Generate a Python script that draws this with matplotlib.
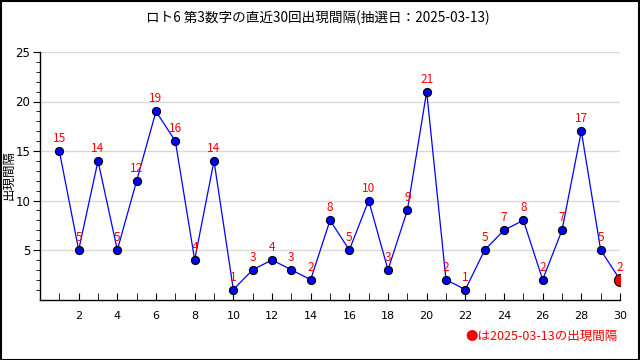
import numpy as np
import matplotlib
matplotlib.use('Agg')
import matplotlib.pyplot as plt
from matplotlib.patches import Rectangle

plt.rcParams['font.family'] = ['Noto Sans CJK JP', 'DejaVu Sans']

# data
draw_index = list(range(1, 31))
interval = [15, 5, 14, 5, 12, 19, 16, 4, 14, 1, 3, 4, 3, 2, 8, 5, 10, 3, 9, 21,
            2, 1, 5, 7, 8, 2, 7, 17, 5, 2]
x_ticks = list(range(2, 31, 2))
y_ticks = [5, 10, 15, 20, 25]
title_text = 'ロト6 第3数字の直近30回出現間隔(抽選日：2025-03-13)'
note_text = '●は2025-03-13の出現間隔'

fig = plt.figure(figsize=(6.4, 3.6), dpi=100)
ax = fig.add_axes([40/640, 60.5/360, 580/640, 247.5/360])

for y in y_ticks:
    ax.axhline(y, color='#d8d8d8', lw=1, zorder=0)

ax.plot(draw_index, interval, c='#0000ff', lw=0.9, zorder=2)
ax.scatter(draw_index[:-1], interval[:-1], s=34, c='#0000ff', edgecolors='black', linewidths=0.8, zorder=3)
ax.scatter(draw_index[-1:], interval[-1:], s=75, c='#ff0000', edgecolors='black', linewidths=0.8, zorder=4)

for xi, yi in zip(draw_index, interval):
    ax.text(xi, yi + 0.6, str(yi), color='#ff0000', fontsize=8.5, ha='center', va='bottom', zorder=5)

ax.set_xlim(0, 30)
ax.set_ylim(0, 25)
ax.set_xticks(x_ticks)
ax.set_xticks(range(1, 31), minor=True)
ax.set_yticks(y_ticks)
ax.set_yticks(range(1, 26), minor=True)
ax.tick_params(axis='x', direction='in', length=5, labelsize=8, pad=8)
ax.tick_params(axis='x', which='minor', direction='in', length=5)
ax.tick_params(axis='y', direction='out', length=5, labelsize=8.5, pad=2)
ax.tick_params(axis='y', which='minor', direction='out', length=3)
ax.spines['top'].set_visible(False)
ax.spines['right'].set_visible(False)
ax.spines['left'].set_linewidth(1)
ax.spines['bottom'].set_linewidth(1)
for lbl in ax.get_xticklabels() + ax.get_yticklabels():
    lbl.set_family(['DejaVu Sans'])

fig.text(2/640, 1 - 175/360, '出現間隔', rotation=90, fontsize=9, ha='left', va='center')
fig.text(318/640, 1 - 18/360, title_text, fontsize=9.8, ha='center', va='center')
fig.text(618/640, 1 - 336/360, note_text, fontsize=9, color='#ff0000', ha='right', va='center')

fig.patches.append(Rectangle((0.5/640, 0.5/360), 1 - 1.5/640, 1 - 1.5/360, transform=fig.transFigure,
                             fill=False, edgecolor='black', lw=1.5))

plt.savefig('out.png', dpi=100)
plt.close()
